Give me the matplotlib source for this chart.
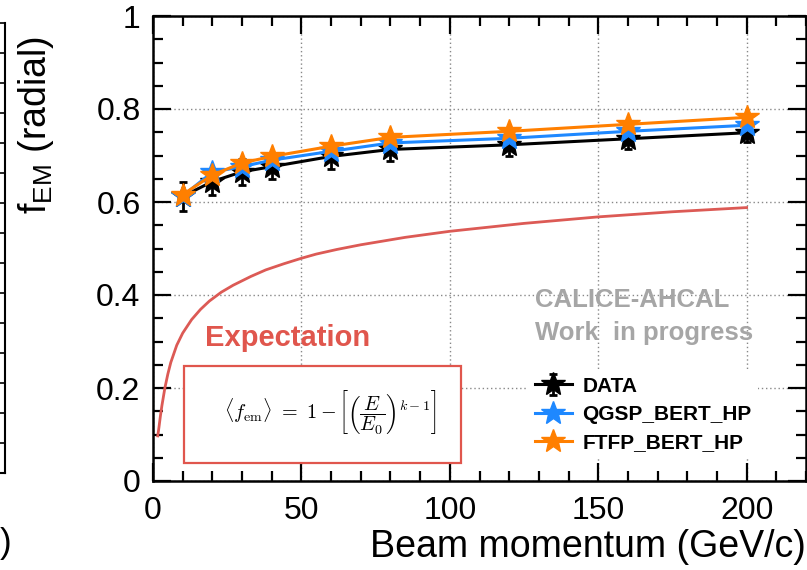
import numpy as np
import matplotlib
matplotlib.use('Agg')
import matplotlib.pyplot as plt
from matplotlib.patches import Rectangle
from matplotlib.lines import Line2D
from matplotlib.ticker import MultipleLocator

plt.rcParams['font.family'] = ['Liberation Sans', 'DejaVu Sans']
plt.rcParams['mathtext.fontset'] = 'custom'
plt.rcParams['mathtext.rm'] = 'Liberation Sans'
plt.rcParams['mathtext.it'] = 'Liberation Sans:italic'

# beam momenta (GeV/c)
momentum = [10, 20, 30, 40, 60, 80, 120, 160, 200]

# f_EM (radial)
f_data = [0.612, 0.644, 0.665, 0.676, 0.698, 0.713, 0.723, 0.736, 0.749]
f_data_err = [0.032, 0.028, 0.028, 0.027, 0.027, 0.025, 0.023, 0.022, 0.02]
f_qgsp = [0.613, 0.664, 0.676, 0.690, 0.709, 0.727, 0.737, 0.752, 0.765]
f_ftfp = [0.616, 0.658, 0.684, 0.698, 0.720, 0.739, 0.752, 0.767, 0.782]

# expectation curve
expect_p = [1.6, 2, 2.5, 3, 4, 5, 6, 8, 10, 13, 16, 19, 23, 27, 33, 38, 44, 50, 55, 62,
            70, 85, 100, 125, 150, 175, 200]
expect_f = [0.097, 0.115, 0.14, 0.162, 0.20, 0.23, 0.255, 0.292, 0.318, 0.347, 0.369,
            0.387, 0.406, 0.421, 0.440, 0.454, 0.467, 0.479, 0.488, 0.498,
            0.508, 0.524, 0.537, 0.554, 0.568, 0.579, 0.588]

series = [
    ('DATA', f_data, f_data_err, 'black'),
    ('QGSP_BERT_HP', f_qgsp, None, '#1e88ff'),
    ('FTFP_BERT_HP', f_ftfp, None, '#ff7f00'),
]

W, H = 807, 570
fig = plt.figure(figsize=(W / 100, H / 100), dpi=100)
ax = fig.add_axes([153 / W, 1 - 481 / H, (806 - 153) / W, (481 - 16) / H])

ax.plot(expect_p, expect_f, color='#dc5a55', lw=2.0, zorder=2)

handles = []
for i, (name, vals, err, col) in enumerate(series):
    h = ax.errorbar(momentum, vals, yerr=err, color=col, lw=2.2, marker='*', ms=18,
                    mec=col, elinewidth=2.0, capsize=3, capthick=2.0, zorder=3 + i)
    handles.append(h)

ax.set_xlim(0, 220)
ax.set_ylim(0, 1)
ax.xaxis.set_major_locator(MultipleLocator(50))
ax.xaxis.set_minor_locator(MultipleLocator(10))
ax.yaxis.set_minor_locator(MultipleLocator(0.05))
ax.set_yticks([0, 0.2, 0.4, 0.6, 0.8, 1.0])
ax.set_yticklabels(['0', '0.2', '0.4', '0.6', '0.8', '1'])
ax.grid(True, which='major', ls=(0, (1, 2)), color='#888888', lw=1.0)
ax.set_axisbelow(True)
ax.tick_params(which='both', direction='in', top=True, right=True, width=1.6, labelsize=23)
ax.tick_params(which='major', length=13)
ax.tick_params(which='minor', length=7)
ax.tick_params(axis='x', pad=11)
ax.tick_params(axis='y', pad=9)
for s in ax.spines.values():
    s.set_linewidth(1.8)

fig.text(36 / W, 1 - 125 / H, r'f$_{\mathrm{EM}}$ (radial)', rotation=90,
         ha='center', va='center', fontsize=27)
fig.text(806 / W, 1 - 547 / H, 'Beam momentum (GeV/c)', ha='right', va='center', fontsize=27)

# expectation annotation
fx = lambda px: (px - 153) / (806 - 153)
fy = lambda py: (481 - py) / (481 - 16)
ax.add_patch(Rectangle((fx(184), fy(463)), fx(461) - fx(184), fy(366) - fy(463),
                       transform=ax.transAxes, facecolor='white', edgecolor='#e0564d',
                       lw=1.6, zorder=6))
ax.text(fx(288), fy(338), 'Expectation', transform=ax.transAxes, color='#e0564d',
        fontsize=21, fontweight='bold', ha='center', va='center', zorder=7)
ax.text(fx(330), fy(412),
        r'$\langle f_{\rm em}\rangle\ =\ 1-\left[\left(\dfrac{E}{E_0}\right)^{k-1}\right]$',
        transform=ax.transAxes, math_fontfamily='cm', fontsize=14.5,
        ha='center', va='center', zorder=7)

ax.text(fx(535), fy(300), 'CALICE-AHCAL', transform=ax.transAxes, color='#a6a6a6',
        fontsize=18.5, fontweight='bold', ha='left', va='center', zorder=7)
ax.text(fx(535), fy(333), 'Work  in progress', transform=ax.transAxes, color='#a6a6a6',
        fontsize=18.5, fontweight='bold', ha='left', va='center', zorder=7)

leg = ax.legend(handles, [s[0] for s in series], loc='upper left',
                bbox_to_anchor=(fx(518), fy(360)), frameon=True, fancybox=False,
                edgecolor='none', facecolor='white', framealpha=1,
                prop={'weight': 'bold', 'size': 15}, handlelength=1.8,
                labelspacing=0.45, borderpad=0.3, handletextpad=0.5)
leg.set_zorder(8)

# edge of the neighbouring panel on the left
fig.add_artist(Line2D([4.7 / W, 4.7 / W], [1 - 23 / H, 1 - 473 / H], color='black', lw=1.5))
fig.add_artist(Line2D([0, 4.7 / W], [1 - 473 / H, 1 - 473 / H], color='black', lw=1.5))
for py in np.arange(23, 473, 30):
    fig.add_artist(Line2D([0, 4.7 / W], [1 - py / H, 1 - py / H], color='black', lw=1.2))
fig.text(0, 1 - 543 / H, ')', ha='left', va='center', fontsize=25)

fig.savefig('out.png', dpi=100)
